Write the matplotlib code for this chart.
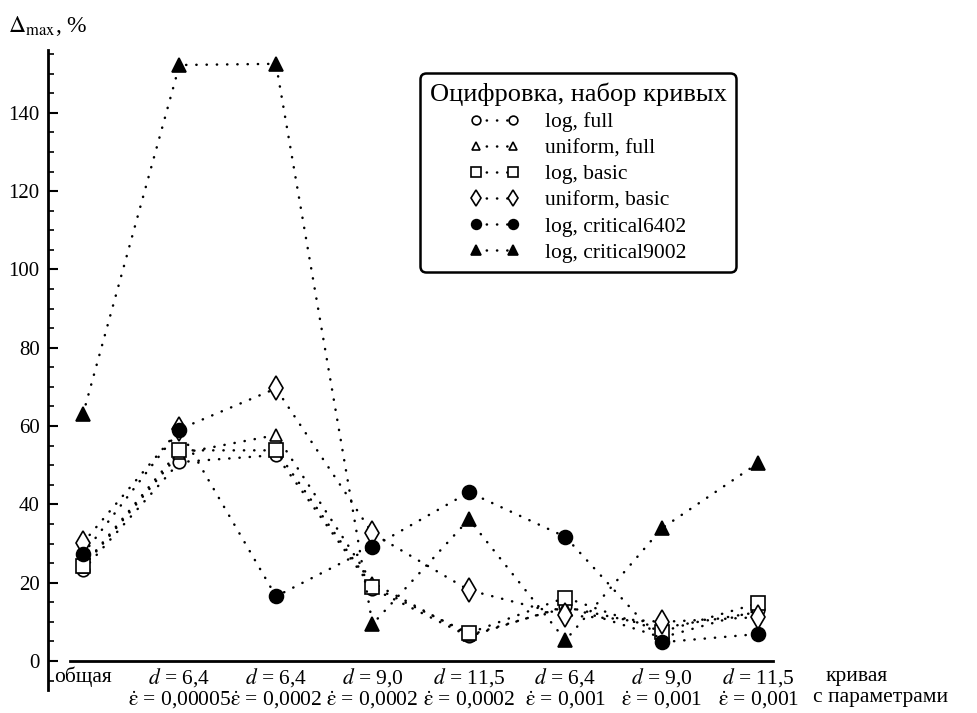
import matplotlib
matplotlib.use('Agg')
import matplotlib.pyplot as plt
from matplotlib.ticker import MultipleLocator

plt.rcParams['font.family'] = ['Liberation Serif', 'DejaVu Serif']
plt.rcParams['mathtext.fontset'] = 'stix'

EPS = r'$\dot{\mathrm{\varepsilon}}$'

# curves along the x axis
curves = ['общая',
          '$d$ = 6,4\n' + EPS + ' = 0,00005',
          '$d$ = 6,4\n' + EPS + ' = 0,0002',
          '$d$ = 9,0\n' + EPS + ' = 0,0002',
          '$d$ = 11,5\n' + EPS + ' = 0,0002',
          '$d$ = 6,4\n' + EPS + ' = 0,001',
          '$d$ = 9,0\n' + EPS + ' = 0,001',
          '$d$ = 11,5\n' + EPS + ' = 0,001']

# max error, %
log_full = [23.2, 50.8, 52.6, 18.5, 6.3, 14.0, 6.0, 13.0]
uniform_full = [24.0, 53.0, 57.7, 20.0, 6.6, 13.8, 8.5, 12.5]
log_basic = [24.2, 53.8, 53.8, 19.0, 7.1, 16.2, 7.5, 14.8]
uniform_basic = [30.2, 59.2, 69.6, 32.6, 18.1, 11.7, 10.0, 11.2]
log_crit6402 = [27.3, 59.0, 16.5, 29.1, 43.1, 31.7, 4.8, 6.9]
log_crit9002 = [63.0, 152.2, 152.5, 9.4, 36.2, 5.3, 33.9, 50.6]

series = [
    (log_full, 'o', 'white', 9, 'log, full'),
    (uniform_full, '^', 'white', 9, 'uniform, full'),
    (log_basic, 's', 'white', 9.5, 'log, basic'),
    (uniform_basic, 'd', 'white', 12, 'uniform, basic'),
    (log_crit6402, 'o', 'black', 10, 'log, critical6402'),
    (log_crit9002, '^', 'black', 10, 'log, critical9002'),
]

fig = plt.figure(figsize=(9.77, 7.13), dpi=100)
ax = fig.add_axes([0.0491, 0.0317, 0.742, 0.898])

x = list(range(len(curves)))
for vals, mk, fc, ms, lab in series:
    ax.plot(x, vals, color='black', lw=1.8, linestyle=(0, (0.1, 4)),
            dash_capstyle='round', marker=mk, markersize=ms,
            markerfacecolor=fc, markeredgecolor='black', markeredgewidth=1.2,
            label=lab)

ax.set_xlim(-0.363, 7.15)
ax.set_ylim(-7.5, 156)

for s in ['top', 'right']:
    ax.spines[s].set_visible(False)
ax.spines['left'].set_linewidth(2)
ax.spines['bottom'].set_linewidth(2)
ax.spines['bottom'].set_position(('data', 0))
ax.spines['bottom'].set_bounds(-0.135, 7.15)

ax.yaxis.set_major_locator(MultipleLocator(20))
ax.yaxis.set_minor_locator(MultipleLocator(5))
ax.tick_params(axis='y', which='major', direction='in', length=7, width=1.5,
               labelsize=15, pad=6)
ax.tick_params(axis='y', which='minor', direction='in', length=4, width=1.2)
ax.set_yticks(range(0, 141, 20))

ax.set_xticks(x)
ax.set_xticklabels(curves, fontsize=15.5, linespacing=1.0)
ax.tick_params(axis='x', length=0, pad=4)

fig.text(826 / 977, 1 - 667 / 713, 'кривая', fontsize=15.5, va='top')
fig.text(813 / 977, 1 - 688 / 713, 'с параметрами', fontsize=15.5, va='top')
fig.text(8 / 977, 1 - 26 / 713, r'$\Delta_{\rm max}$, %', fontsize=17,
         va='center')

leg = ax.legend(title='Оцифровка, набор кривых', loc='upper left',
                bbox_to_anchor=(420 / 977, 1 - 73 / 713),
                bbox_transform=fig.transFigure, borderaxespad=0,
                fontsize=15.5, title_fontsize=19, markerscale=0.7, numpoints=2,
                handlelength=2.3, handletextpad=1.2, labelspacing=0.28,
                borderpad=0.45, fancybox=True, framealpha=1, edgecolor='black')
leg.get_frame().set_linewidth(1.8)
leg.get_frame().set_boxstyle('round', pad=0.0, rounding_size=0.3)

fig.savefig('out.png', dpi=100)
